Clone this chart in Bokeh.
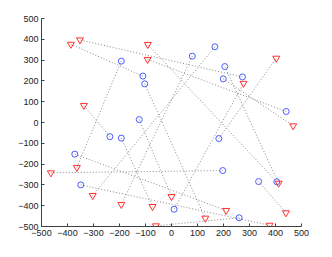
from bokeh.plotting import figure
from bokeh.models import Range1d, FixedTicker, ColumnDataSource
from bokeh.embed import file_html
from bokeh.resources import INLINE

# blue circles
circle_x = [-193, -110, -103, -124, 80, 167, 205, 199, 273, 441,
            -372, -349, -237, -193, 10, 182, 197, 260, 335, 405]
circle_y = [295, 223, 186, 14, 319, 364, 269, 210, 219, 53,
            -152, -300, -68, -75, -417, -77, -231, -458, -284, -285]
# red triangles
tri_x = [-387, -352, -337, -91, -92, 403, 277, 468, -464, -364,
         -303, -193, -73, -60, 0, 130, 210, 412, 440, 377]
tri_y = [376, 397, 82, 375, 303, 309, 188, -16, -242, -216,
         -351, -394, -404, -497, -356, -460, -423, -292, -434, -494]
# triangle index matched to each circle
match = [9, 0, 15, 14, 11, 10, 17, 7, 1, 4,
         16, 19, 2, 12, 6, 5, 8, 13, 18, 3]

ticks = [-500, -400, -300, -200, -100, 0, 100, 200, 300, 400, 500]

p = figure(width=323, height=247, output_backend="svg", toolbar_location=None,
           x_range=Range1d(-500, 500), y_range=Range1d(-500, 500),
           min_border_left=41, min_border_right=22, min_border_top=18, min_border_bottom=21)
p.outline_line_color = None
p.grid.visible = False
p.background_fill_color = "white"
p.border_fill_color = "white"

seg = ColumnDataSource(dict(
    x0=circle_x, y0=circle_y,
    x1=[tri_x[m] for m in match], y1=[tri_y[m] for m in match]))
p.segment("x0", "y0", "x1", "y1", source=seg, line_color="#8a8a8a",
          line_width=1, line_dash="1 2")

p.scatter(circle_x, circle_y, marker="circle", size=6, fill_color=None,
          line_color="#4a5cff", line_width=1)
p.scatter(tri_x, tri_y, marker="inverted_triangle", size=7, fill_color=None,
          line_color="#ff3030", line_width=1)

for ax in (p.xaxis[0], p.yaxis[0]):
    ax.ticker = FixedTicker(ticks=ticks)
    ax.minor_tick_line_color = None
    ax.major_tick_in = 3
    ax.major_tick_out = 0
    ax.major_label_standoff = 3
    ax.axis_line_color = "#404040"
    ax.major_tick_line_color = "#404040"
    ax.major_label_text_font = "Liberation Sans"
    ax.major_label_text_font_size = "9px"
    ax.major_label_text_color = "#222222"

open("out.html", "w").write(file_html(p, INLINE))
